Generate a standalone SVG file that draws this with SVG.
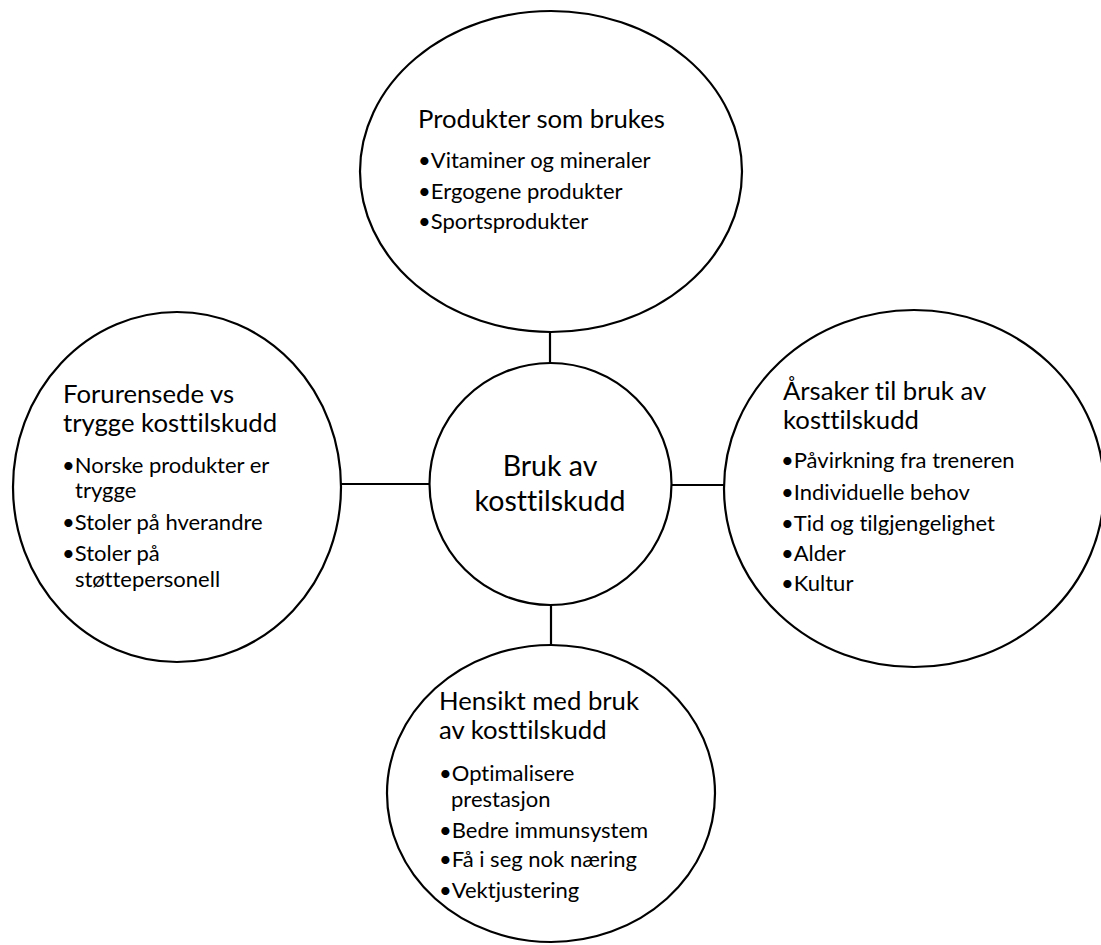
<svg xmlns="http://www.w3.org/2000/svg" width="1101" height="945" viewBox="0 0 1101 945">
<style>
.shape{fill:#fff;stroke:#000;stroke-width:2.2}
.conn{stroke:#000;stroke-width:2.2;fill:none}
text{font-family:Lato,"Open Sans","Liberation Sans",sans-serif;fill:#000;font-variant-ligatures:none}
.t{font-size:25.7px}
.b{font-size:22px}
.c{font-size:28.5px;text-anchor:middle}
</style>
<rect width="1101" height="945" fill="#fff"/>
<g id="connectors">
<line class="conn" x1="550" y1="332" x2="550" y2="363"/>
<line class="conn" x1="551" y1="605" x2="551" y2="645"/>
<line class="conn" x1="341" y1="484" x2="430" y2="484"/>
<line class="conn" x1="671" y1="485" x2="724" y2="485"/>
</g>
<g id="node-top">
<ellipse class="shape" cx="551" cy="171.5" rx="191" ry="160.5"/>
<text class="t" x="418" y="128">Produkter som brukes</text>
<text class="b" x="418" y="168">•Vitaminer og mineraler</text>
<text class="b" x="418" y="199">•Ergogene produkter</text>
<text class="b" x="418" y="229">•Sportsprodukter</text>
</g>
<g id="node-center">
<circle class="shape" cx="550.5" cy="484" r="121"/>
<text class="c" x="550" y="476">Bruk av</text>
<text class="c" x="550" y="511">kosttilskudd</text>
</g>
<g id="node-left">
<ellipse class="shape" cx="177" cy="487" rx="164" ry="175"/>
<text class="t" x="63" y="403">Forurensede vs</text>
<text class="t" x="63" y="432">trygge kosttilskudd</text>
<text class="b" x="62" y="473">•Norske produkter er</text>
<text class="b" x="75" y="498">trygge</text>
<text class="b" x="62" y="530">•Stoler på hverandre</text>
<text class="b" x="62" y="561">•Stoler på</text>
<text class="b" x="75" y="587">støttepersonell</text>
</g>
<g id="node-right">
<ellipse class="shape" cx="914" cy="488.5" rx="190" ry="178.5"/>
<text class="t" x="783" y="400">Årsaker til bruk av</text>
<text class="t" x="783" y="429">kosttilskudd</text>
<text class="b" x="781" y="468">•Påvirkning fra treneren</text>
<text class="b" x="781" y="500">•Individuelle behov</text>
<text class="b" x="781" y="531">•Tid og tilgjengelighet</text>
<text class="b" x="781" y="561">•Alder</text>
<text class="b" x="781" y="591">•Kultur</text>
</g>
<g id="node-bottom">
<ellipse class="shape" cx="551" cy="793.5" rx="164" ry="148.5"/>
<text class="t" x="439" y="710">Hensikt med bruk</text>
<text class="t" x="439" y="739">av kosttilskudd</text>
<text class="b" x="439" y="781">•Optimalisere</text>
<text class="b" x="451" y="807">prestasjon</text>
<text class="b" x="439" y="838">•Bedre immunsystem</text>
<text class="b" x="439" y="867">•Få i seg nok næring</text>
<text class="b" x="439" y="898">•Vektjustering</text>
</g>
</svg>
